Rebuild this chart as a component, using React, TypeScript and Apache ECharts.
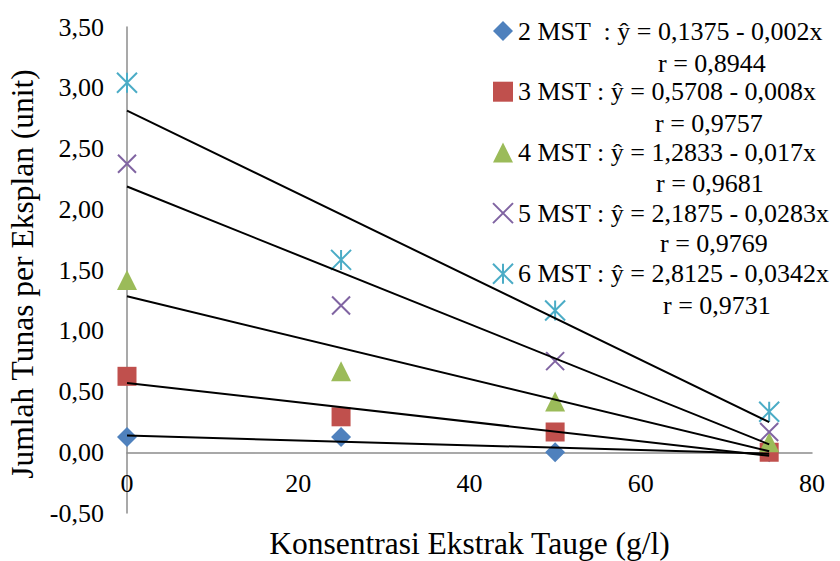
import React, { useEffect, useRef } from "react";
import * as echarts from "echarts";

const xValues = [0, 25, 50, 75];
const seriesNames = ["2 MST", "3 MST", "4 MST", "5 MST", "6 MST"];
const mst2 = [0.125, 0.125, 0.0, 0.0];
const mst3 = [0.625, 0.2917, 0.1667, 0.0];
const mst4 = [1.4167, 0.6667, 0.4167, 0.0833];
const mst5 = [2.375, 1.2083, 0.75, 0.1667];
const mst6 = [3.0417, 1.5833, 1.1667, 0.3333];
const seriesValues = [mst2, mst3, mst4, mst5, mst6];
const intercepts = [0.1375, 0.5708, 1.2833, 2.1875, 2.8125];
const slopes = [-0.002, -0.008, -0.017, -0.0283, -0.0342];
const fitRange = [0, 75];
const equationLabels = [
  "2 MST  : ŷ = 0,1375 - 0,002x",
  "3 MST : ŷ = 0,5708 - 0,008x",
  "4 MST : ŷ = 1,2833 - 0,017x",
  "5 MST : ŷ = 2,1875 - 0,0283x",
  "6 MST : ŷ = 2,8125 - 0,0342x",
];
const rLabels = ["r = 0,8944", "r = 0,9757", "r = 0,9681", "r = 0,9769", "r = 0,9731"];
const xTitle = "Konsentrasi Ekstrak Tauge (g/l)";
const yTitle = "Jumlah Tunas per Eksplan (unit)";

const colors = ["#4f81bd", "#c0504d", "#9bbb59", "#8064a2", "#4bacc6"];
const XPATH = "path://M0,0L20,20M20,0L0,20";
const STARPATH = "path://M0,0L20,20M20,0L0,20M10,0L10,20";
const symbols = ["diamond", "rect", "triangle", XPATH, STARPATH];
const symbolSizes = [20, 19, 20, 18, 20];
const FONT = "Liberation Serif";

export default function App() {
  const ref = useRef<HTMLDivElement>(null);
  useEffect(() => {
    document.body.style.margin = "0";
    if (!ref.current) return;
    const chart = echarts.init(ref.current, null, { renderer: "svg" });
    const isStroke = (i: number) => i >= 3;
    const scatterSeries = seriesNames.map((name, i) => ({
      name,
      type: "scatter",
      z: 2,
      symbol: symbols[i],
      symbolSize: symbolSizes[i],
      itemStyle: isStroke(i)
        ? { color: colors[i], borderColor: colors[i], borderWidth: 2, opacity: 1 }
        : { color: colors[i], opacity: 1 },
      data: xValues.map((x, j) => [x, seriesValues[i][j]]),
    }));
    const trendSeries = seriesNames.map((name, i) => ({
      name: name + " trend",
      type: "line",
      z: 5,
      silent: true,
      showSymbol: false,
      symbol: "none",
      lineStyle: { color: "#000", width: 2 },
      data: fitRange.map((x) => [x, intercepts[i] + slopes[i] * x]),
    }));
    const rGraphics = rLabels.map((t, i) => ({
      type: "text",
      left: [658, 655, 656, 660, 663][i],
      top: [63.3, 123.3, 183.3, 243.3, 305][i] - 13,
      style: { text: t, fontFamily: FONT, fontSize: 26, fill: "#000" },
    }));
    chart.setOption({
      animation: false,
      grid: { left: 127, right: 28, top: 27, bottom: 48, containLabel: false, outerBoundsMode: "none" },
      legend: {
        orient: "vertical",
        left: 492,
        top: 16,
        padding: 0,
        itemWidth: 20,
        itemHeight: 20,
        itemGap: 30.7,
        selectedMode: false,
        textStyle: { fontFamily: FONT, fontSize: 26, color: "#000", lineHeight: 30 },
        formatter: (n: string) => equationLabels[seriesNames.indexOf(n)],
        data: seriesNames.map((name, i) => ({
          name,
          icon: symbols[i],
          itemStyle: isStroke(i)
            ? { color: colors[i], borderColor: colors[i], borderWidth: 2 }
            : { color: colors[i], borderWidth: 0 },
        })),
      },
      xAxis: {
        type: "value",
        min: 0,
        max: 80,
        interval: 20,
        name: xTitle,
        nameLocation: "middle",
        nameGap: 14,
        nameTextStyle: { fontFamily: FONT, fontSize: 31.5, color: "#000" },
        axisLine: { onZero: true, lineStyle: { color: "#8c8c8c", width: 1.5 } },
        axisTick: { show: false },
        splitLine: { show: false },
        axisLabel: { fontFamily: FONT, fontSize: 26, color: "#000", margin: -43 },
      },
      yAxis: {
        type: "value",
        min: -0.5,
        max: 3.5,
        interval: 0.5,
        name: yTitle,
        nameLocation: "middle",
        nameGap: 86,
        nameTextStyle: { fontFamily: FONT, fontSize: 31.5, color: "#000", padding: [0, 8, 0, 0] },
        axisLine: { show: true, lineStyle: { color: "#8c8c8c", width: 1.5 } },
        axisTick: { show: false },
        splitLine: { show: false },
        axisLabel: {
          fontFamily: FONT,
          fontSize: 26,
          color: "#000",
          margin: 23,
          formatter: (v: number) => v.toFixed(2).replace(".", ","),
        },
      },
      graphic: rGraphics,
      series: [...scatterSeries, ...trendSeries],
    });
    return () => chart.dispose();
  }, []);
  return <div ref={ref} style={{ width: 840, height: 561 }} />;
}
